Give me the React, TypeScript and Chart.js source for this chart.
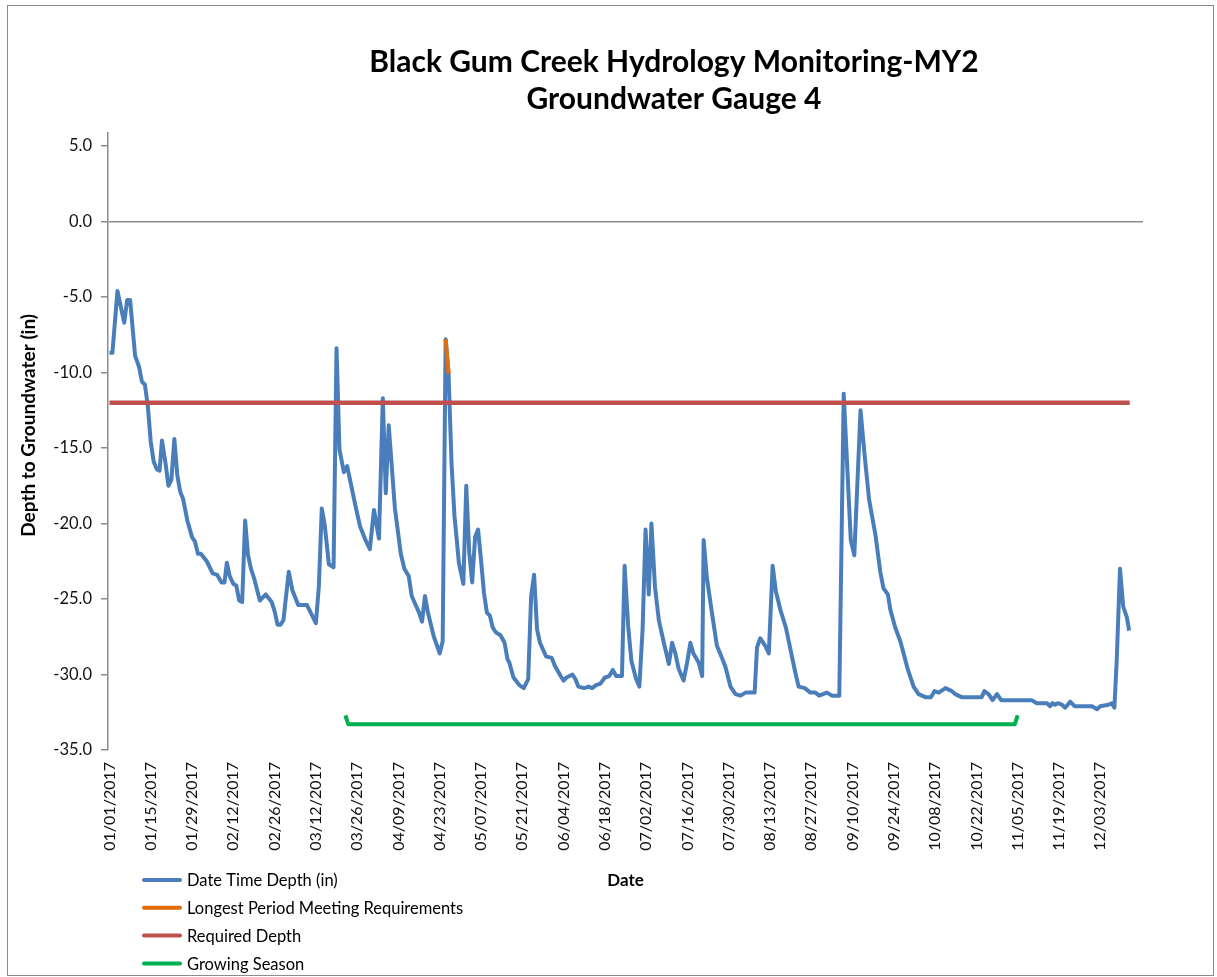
import React, { useEffect, useRef } from 'react';
import { Chart, registerables } from 'chart.js';

Chart.register(...registerables);

const TITLE_LINES = ['Black Gum Creek Hydrology Monitoring-MY2', 'Groundwater Gauge 4'];
const Y_TITLE = 'Depth to Groundwater (in)';
const X_TITLE = 'Date';
const SERIES_NAMES = [
  'Date Time Depth (in)',
  'Longest Period Meeting Requirements',
  'Required Depth',
  'Growing Season',
];
const SERIES_COLORS = ['#4a7ebb', '#e46c0a', '#c0504d', '#00b050'];

// x positions are day-of-year offsets from 01/01/2017
const TICK_DAYS = [0, 14, 28, 42, 56, 70, 84, 98, 112, 126, 140, 154, 168, 182, 196, 210, 224, 238, 252, 266, 280, 294, 308, 322, 336];
const TICK_LABELS = [
  '01/01/2017', '01/15/2017', '01/29/2017', '02/12/2017', '02/26/2017', '03/12/2017', '03/26/2017',
  '04/09/2017', '04/23/2017', '05/07/2017', '05/21/2017', '06/04/2017', '06/18/2017', '07/02/2017',
  '07/16/2017', '07/30/2017', '08/13/2017', '08/27/2017', '09/10/2017', '09/24/2017', '10/08/2017',
  '10/22/2017', '11/05/2017', '11/19/2017', '12/03/2017',
];
const Y_TICK_VALUES = [-35, -30, -25, -20, -15, -10, -5, 0, 5];

// [day, depth (in)]
const DEPTH_READINGS: [number, number][] = [
  [0, -8.7], [1, -8.7], [2.7, -4.6], [5, -6.7], [6, -5.2], [7, -5.2], [8.7, -8.9], [10, -9.6],
  [11, -10.6], [12, -10.8], [13, -12.2], [14, -14.6], [15, -15.9], [16, -16.4], [17, -16.5],
  [17.8, -14.5], [19, -16.0], [20, -17.5], [21, -17.1], [22, -14.4], [23, -16.8], [24, -17.9],
  [25, -18.4], [26.4, -19.8], [28, -20.9], [29, -21.2], [30, -22.0], [31, -22.0], [33, -22.5],
  [35, -23.3], [36.5, -23.4], [38, -23.9], [39, -23.9], [39.8, -22.6], [40.8, -23.5], [42, -24.0],
  [43, -24.1], [44, -25.1], [45, -25.2], [46, -19.8], [47, -22.1], [48, -23.0], [49, -23.6],
  [51, -25.1], [53, -24.7], [55, -25.2], [56, -25.8], [57, -26.7], [58, -26.7], [59, -26.4],
  [60.8, -23.2], [62, -24.4], [64, -25.4], [67, -25.4], [68, -25.8], [70, -26.6], [71, -24.2],
  [72, -19.0], [73, -20.1], [74.4, -22.7], [76, -22.9], [77, -8.4], [78, -15.1], [79.5, -16.6],
  [80.6, -16.2], [82, -17.5], [83.6, -19.0], [85, -20.2], [86.6, -21.0], [88.3, -21.7], [89.7, -19.1],
  [91.4, -21.0], [92.7, -11.7], [93.7, -18.0], [94.7, -13.5], [96.8, -19.0], [97.8, -20.5],
  [98.8, -22.0], [100, -23.0], [101.5, -23.5], [102.5, -24.8], [103.6, -25.3], [105, -25.9],
  [106, -26.5], [107, -24.8], [108, -25.9], [110, -27.5], [112, -28.6], [113, -27.8], [114, -7.8],
  [115, -10.1], [116, -16.0], [117, -19.5], [118.5, -22.6], [120, -24.0], [121, -17.5], [122, -21.9],
  [123, -23.9], [124, -20.9], [125, -20.4], [126, -22.4], [127, -24.6], [128, -25.9], [129, -26.1],
  [130, -26.9], [131, -27.2], [132.6, -27.4], [134, -27.9], [135, -29.0], [135.6, -29.2], [137, -30.2],
  [139, -30.7], [140.5, -30.9], [142, -30.3], [143, -24.8], [144, -23.4], [145, -27.0], [146, -27.9],
  [147.6, -28.6], [148, -28.8], [150, -28.9], [151, -29.4], [153, -30.1], [154, -30.4], [155, -30.2],
  [157, -30.0], [158, -30.3], [159, -30.8], [161, -30.9], [162.5, -30.8], [163.7, -30.9], [165, -30.7],
  [166.5, -30.6], [168, -30.2], [169.5, -30.1], [170.7, -29.7], [171.8, -30.1], [173.8, -30.1],
  [174.7, -22.8], [175.9, -26.8], [177, -29.1], [178.6, -30.3], [179.7, -30.8], [180.8, -27.0],
  [181.8, -20.4], [182.9, -24.7], [183.8, -20.0], [185, -24.2], [186.3, -26.4], [188, -27.9],
  [189.7, -29.3], [190.8, -27.9], [191.9, -28.6], [193, -29.6], [194.7, -30.4], [195.9, -29.2],
  [197, -27.9], [198, -28.6], [199.8, -29.2], [201, -30.1], [201.5, -21.1], [202.6, -23.6],
  [204.3, -25.9], [206, -28.1], [207.5, -28.8], [208.9, -29.5], [210.6, -30.8], [212.3, -31.3],
  [214, -31.4], [215.7, -31.2], [218.8, -31.2], [219.6, -28.2], [220.7, -27.6], [222.4, -28.1],
  [223.6, -28.6], [224.9, -22.8], [226, -24.5], [227.5, -25.7], [229.4, -26.9], [230.9, -28.3],
  [232.4, -29.7], [233.7, -30.8], [235.8, -30.9], [237.7, -31.2], [239.4, -31.2], [240.7, -31.4],
  [243.3, -31.2], [245, -31.4], [247.5, -31.4], [249, -11.4], [251.4, -21.1], [252.6, -22.1],
  [254.7, -12.5], [256, -15.3], [257.6, -18.4], [259.8, -20.8], [261.4, -23.2], [262.5, -24.3],
  [264, -24.7], [264.8, -25.7], [266.5, -26.9], [268.2, -27.8], [269.3, -28.6], [270.8, -29.7],
  [272.7, -30.8], [274.4, -31.3], [276.7, -31.5], [278.6, -31.5], [279.8, -31.1], [281.2, -31.2],
  [283.5, -30.9], [285.7, -31.1], [286.8, -31.3], [289, -31.5], [295.8, -31.5], [296.7, -31.1],
  [298.1, -31.3], [299.5, -31.7], [301, -31.3], [302.4, -31.7], [312.8, -31.7], [314.5, -31.9],
  [317.9, -31.9], [319, -32.1], [319.8, -31.9], [320.7, -32.0], [321.6, -31.9], [323, -32.0],
  [324.1, -32.2], [325.8, -31.8], [327.3, -32.1], [333.2, -32.1], [334.9, -32.3], [336, -32.1],
  [338.8, -32.0], [339.9, -31.9], [340.8, -32.2], [341.6, -29.0], [342.7, -23.0], [343.8, -25.5],
  [345, -26.2], [345.8, -27.1],
];
const LONGEST_PERIOD: [number, number][] = [[114, -7.8], [115, -10.1]];
const REQUIRED_DEPTH: [number, number][] = [[0, -12], [346, -12]];
const GROWING_SEASON: [number, number][] = [[80, -32.7], [81, -33.3], [307, -33.3], [308, -32.7]];

const FONT = 'Lato, "Noto Sans", sans-serif';

const toPoints = (rows: [number, number][]) => rows.map(([x, y]) => ({ x, y }));

// Excel placed the title block right of the centre; shift the built-in title box to match
const titleShift = {
  id: 'titleShift',
  afterLayout(chart: any) {
    const tb = chart.titleBlock;
    if (tb) {
      tb.left = 197;
      tb.right = 1135;
    }
  },
};

const stackedLegend = {
  id: 'stackedLegend',
  afterDraw(chart: any) {
    const ctx = chart.ctx;
    ctx.save();
    ctx.font = `16.5px ${FONT}`;
    ctx.textBaseline = 'middle';
    ctx.textAlign = 'left';
    chart.data.datasets.forEach((ds: any, i: number) => {
      const y = 874 + i * 27.8;
      ctx.strokeStyle = ds.borderColor;
      ctx.lineWidth = 4;
      ctx.lineCap = 'round';
      ctx.beginPath();
      ctx.moveTo(136, y);
      ctx.lineTo(172, y);
      ctx.stroke();
      ctx.fillStyle = '#000';
      ctx.fillText(ds.label, 179, y + 1);
    });
    ctx.restore();
  },
};

export default function App() {
  const ref = useRef<HTMLCanvasElement | null>(null);

  useEffect(() => {
    if (!ref.current) return;
    const line = (i: number, rows: [number, number][], order: number, width: number) => ({
      label: SERIES_NAMES[i],
      data: toPoints(rows),
      borderColor: SERIES_COLORS[i],
      backgroundColor: SERIES_COLORS[i],
      borderWidth: width,
      borderJoinStyle: 'round' as const,
      borderCapStyle: 'butt' as const,
      pointRadius: 0,
      tension: 0,
      fill: false,
      order,
    });
    const chart = new Chart(ref.current, {
      type: 'line',
      data: {
        datasets: [
          line(0, DEPTH_READINGS, 3, 4),
          line(1, LONGEST_PERIOD, 2, 4),
          line(2, REQUIRED_DEPTH, 1, 4.5),
          line(3, GROWING_SEASON, 0, 4),
        ],
      },
      options: {
        responsive: false,
        animation: false,
        devicePixelRatio: 1,
        layout: { padding: { left: 0, right: 70, top: 0, bottom: 84 } },
        plugins: {
          legend: { display: false },
          tooltip: { enabled: false },
          title: {
            display: true,
            text: TITLE_LINES,
            color: '#000',
            font: { family: FONT, size: 30, weight: 'bold', lineHeight: 1.217 },
            padding: { top: 38.25, bottom: 15.75 },
          },
        },
        scales: {
          x: {
            type: 'linear',
            min: -0.5,
            max: 350.5,
            afterBuildTicks: (scale: any) => {
              scale.ticks = TICK_DAYS.map((v) => ({ value: v }));
            },
            afterFit: (scale: any) => {
              scale.height = 141;
            },
            grid: { display: false, drawTicks: false },
            border: { display: false },
            ticks: {
              autoSkip: false,
              minRotation: 90,
              maxRotation: 90,
              padding: 12,
              color: '#111',
              font: { family: FONT, size: 16 },
              callback: (v: any) => TICK_LABELS[TICK_DAYS.indexOf(Number(v))] ?? '',
            },
            title: {
              display: true,
              text: X_TITLE,
              color: '#000',
              font: { family: FONT, size: 17, weight: 'bold' },
              padding: { top: 0, bottom: 0 },
            },
          },
          y: {
            type: 'linear',
            min: -35,
            max: 5.86,
            afterBuildTicks: (scale: any) => {
              scale.ticks = Y_TICK_VALUES.map((v) => ({ value: v }));
            },
            afterFit: (scale: any) => {
              scale.width = 100;
            },
            grid: {
              color: (c: any) => (c.tick && c.tick.value === 0 ? '#8c8c8c' : 'rgba(0,0,0,0)'),
              tickColor: '#8c8c8c',
              tickLength: 7,
              lineWidth: 1.5,
              drawOnChartArea: true,
            },
            border: { display: true, color: '#8c8c8c', width: 1.5 },
            ticks: {
              padding: 9,
              color: '#111',
              font: { family: FONT, size: 16.5 },
              callback: (v: any) => Number(v).toFixed(1),
            },
            title: {
              display: true,
              text: '       ' + Y_TITLE,
              color: '#000',
              font: { family: FONT, size: 19, weight: 'bold' },
              padding: { top: 9, bottom: 0 },
            },
          },
        },
      },
      plugins: [titleShift, stackedLegend],
    });
    return () => chart.destroy();
  }, []);

  return (
    <div
      style={{
        position: 'absolute',
        left: 7,
        top: 5,
        width: 1207,
        height: 971,
        border: '1px solid #8c8c8c',
        boxSizing: 'border-box',
        background: '#fff',
      }}
    >
      <canvas ref={ref} width={1205} height={969} style={{ display: 'block', width: 1205, height: 969 }} />
    </div>
  );
}
